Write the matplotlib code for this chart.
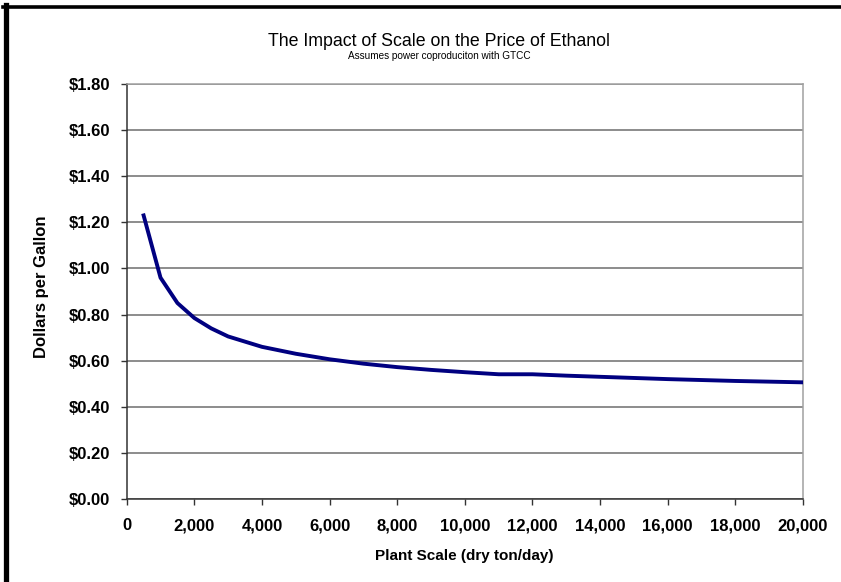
import numpy as np
import matplotlib.pyplot as plt
from matplotlib.lines import Line2D
from matplotlib.ticker import FuncFormatter, MultipleLocator

plt.rc('font', **{'family': 'sans-serif', 'sans-serif': ['Liberation Sans', 'DejaVu Sans']})

# plant scale (dry ton/day) and ethanol price ($/gal)
scale = [500, 1000, 1500, 2000, 2500, 3000, 4000, 5000, 6000, 7000, 8000, 9000,
         10000, 11000, 12000, 13000, 14000, 15000, 16000, 17000, 18000, 19000, 20000]
price = [1.23, 0.96, 0.85, 0.785, 0.74, 0.705, 0.66, 0.63, 0.606, 0.587, 0.572, 0.56,
         0.55, 0.541, 0.541, 0.535, 0.530, 0.525, 0.520, 0.516, 0.512, 0.509, 0.506]

W, H = 841, 582
fig = plt.figure(figsize=(W / 100, H / 100), dpi=100)
ax = fig.add_axes([126.7 / W, 1 - 499 / H, (803 - 126.7) / W, (499 - 84) / H])

ax.plot(scale, price, color='#000080', lw=2.8, solid_joinstyle='miter', zorder=3)

ax.set_xlim(0, 20000)
ax.set_ylim(0, 1.8)
ax.xaxis.set_major_locator(MultipleLocator(2000))
ax.yaxis.set_major_locator(MultipleLocator(0.2))
ax.xaxis.set_major_formatter(FuncFormatter(lambda v, p: '{:,.0f}'.format(v)))
ax.yaxis.set_major_formatter(FuncFormatter(lambda v, p: '${:.2f}'.format(v)))

ax.grid(axis='y', color='#6e6e6e', lw=1.1)
ax.set_axisbelow(True)
for lab in ax.get_xticklabels() + ax.get_yticklabels():
    lab.set_fontweight('bold')
ax.tick_params(axis='both', labelsize=12, direction='out', length=4, width=1.0,
               color='#333333')
ax.tick_params(axis='x', pad=10)
ax.tick_params(axis='y', pad=8)

ax.spines['left'].set_color('#333333')
ax.spines['bottom'].set_color('#333333')
ax.spines['top'].set_color('#a0a0a0')
ax.spines['right'].set_color('#a0a0a0')
for s in ax.spines.values():
    s.set_linewidth(1.1)

fig.text(439 / W, 1 - 42 / H, 'The Impact of Scale on the Price of Ethanol',
         ha='center', va='center', fontsize=12.8)
fig.text(439 / W, 1 - 56 / H, 'Assumes power coproduciton with GTCC',
         ha='center', va='center', fontsize=7.2)
fig.text(464 / W, 1 - 556 / H, 'Plant Scale (dry ton/day)', ha='center', va='center',
         fontsize=11, fontweight='bold')
fig.text(42 / W, 1 - 287 / H, 'Dollars per Gallon', ha='center', va='center',
         rotation=90, fontsize=12, fontweight='bold')

# black frame on the left and top edges
fig.add_artist(Line2D([5.5 / W, 5.5 / W], [0, 1 - 5 / H], color='black', lw=3.8,
                      transform=fig.transFigure))
fig.add_artist(Line2D([3 / W, 1], [1 - 6.5 / H, 1 - 6.5 / H], color='black', lw=2.6,
                      transform=fig.transFigure))

fig.savefig('out.png', dpi=100)
